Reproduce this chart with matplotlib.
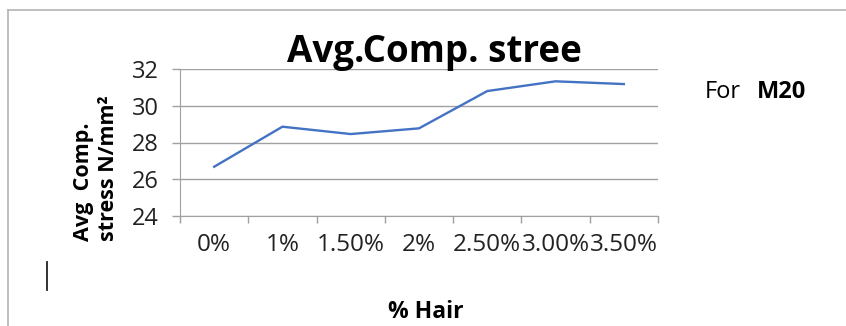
import matplotlib
matplotlib.use('Agg')
import matplotlib.pyplot as plt
from matplotlib.lines import Line2D

# compressive strength for M20 mix vs hair content
hair_pct = ['0%', '1%', '1.50%', '2%', '2.50%', '3.00%', '3.50%']
avg_stress = [26.68, 28.86, 28.46, 28.77, 30.80, 31.33, 31.18]
y_ticks = [24, 26, 28, 30, 32]

W, H = 846, 326
FONT = 'Open Sans'
GREY = '#a0a0a0'

fig = plt.figure(figsize=(W / 100, H / 100), dpi=100)
fig.patch.set_facecolor('white')

# frame of the embedded chart box
fig.add_artist(Line2D([8 / W, 8 / W], [0, 1 - 10 / H], color='#b4b4b4', lw=1.2))
fig.add_artist(Line2D([8 / W, 1], [1 - 10 / H, 1 - 10 / H], color='#b4b4b4', lw=1.2))

ax = fig.add_axes([180 / W, 1 - 216 / H, 478 / W, 147 / H])
x = list(range(len(hair_pct)))
ax.plot(x, avg_stress, color='#4472C4', lw=1.7, solid_joinstyle='round')

ax.set_xlim(-0.5, len(hair_pct) - 0.5)
ax.set_ylim(y_ticks[0], y_ticks[-1])
ax.set_yticks(y_ticks)
ax.grid(axis='y', color=GREY, lw=1)
ax.set_axisbelow(True)

# category boundaries carry the tick marks, labels sit at the centres
ax.set_xticks([i - 0.5 for i in range(len(hair_pct) + 1)])
ax.set_xticklabels([])
ax.set_xticks(x, minor=True)
ax.set_xticklabels(hair_pct, minor=True, fontsize=17.5, family=FONT, color='#222222')
ax.tick_params(axis='x', which='major', length=5, color=GREY, width=1)
ax.tick_params(axis='x', which='minor', length=0, pad=12)
ax.tick_params(axis='y', length=6, color=GREY, width=1, pad=9)
for lbl in ax.get_yticklabels():
    lbl.set_fontsize(17)
    lbl.set_family(FONT)
    lbl.set_color('#222222')

for side in ('top', 'right'):
    ax.spines[side].set_visible(False)
for side in ('left', 'bottom'):
    ax.spines[side].set_color(GREY)

fig.text(434 / W, 1 - 62 / H, 'Avg.Comp. stree', ha='center', va='baseline',
         fontsize=26.5, fontweight='bold', family=FONT)

fig.text(83 / W, 1 - 241 / H, 'Avg  Comp.', rotation=90, ha='center', va='bottom',
         fontsize=15.5, fontweight='bold', family=FONT)
fig.text(108 / W, 1 - 241 / H, 'stress N/mm²', rotation=90, ha='center', va='bottom',
         fontsize=15.5, fontweight='bold', family=FONT)

fig.text(426 / W, 1 - 318 / H, '% Hair', ha='center', va='baseline',
         fontsize=16.5, fontweight='bold', family=FONT)

fig.text(705 / W, 1 - 98 / H, 'For', ha='left', va='baseline',
         fontsize=17, family=FONT)
fig.text(757 / W, 1 - 98 / H, 'M20', ha='left', va='baseline',
         fontsize=17, fontweight='bold', family=FONT)

# text cursor left in the box
fig.add_artist(Line2D([47 / W, 47 / W], [1 - 290 / H, 1 - 262 / H], color='#222222', lw=1.3))

fig.savefig('out.png', dpi=100)
